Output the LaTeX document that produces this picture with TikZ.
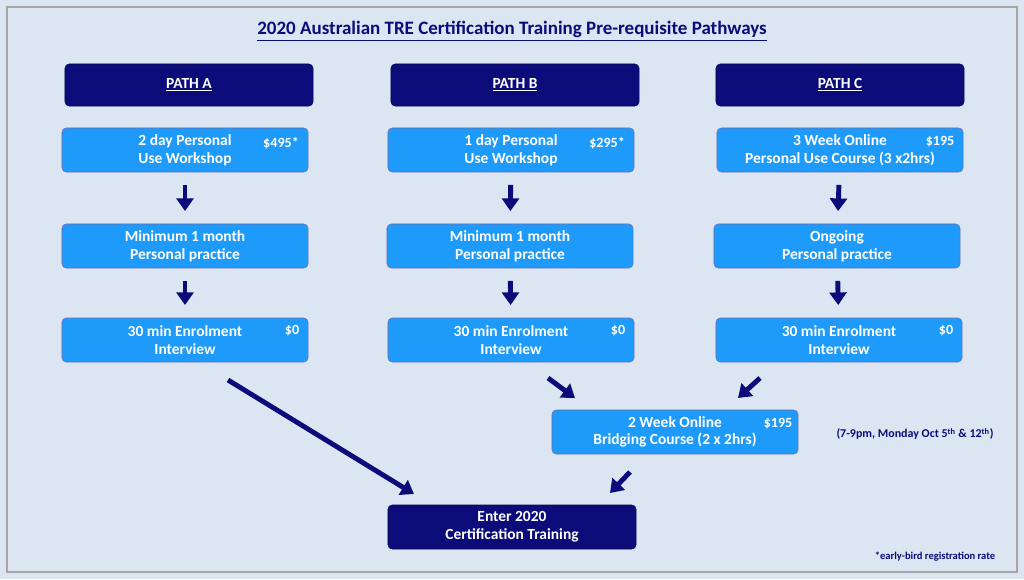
\documentclass[tikz,border=0pt]{standalone}
\usepackage{fontspec}
\setmainfont{Carlito}
\usetikzlibrary{arrows.meta,positioning}
\definecolor{navy}{HTML}{0B0B7A}
\definecolor{skyb}{HTML}{1E9BFA}
\definecolor{bgc}{HTML}{DCE6F2}

\begin{document}
\begin{tikzpicture}[x=0.025cm,y=-0.025cm,
    pathbox/.style={draw=navy!70!black,fill=navy,rounded corners=3pt,text=white,
      font=\bfseries\fontsize{11}{13}\selectfont,minimum width=6.2cm,minimum height=1.05cm},
    stepbox/.style={draw=navy!60,fill=skyb,rounded corners=3pt,text=white,align=center,
      font=\bfseries\fontsize{11}{12.5}\selectfont,minimum width=6.15cm,minimum height=1.1cm},
    price/.style={text=white,font=\bfseries\fontsize{10}{12}\selectfont},
    flow/.style={-{Triangle[length=9pt,width=12pt]},line width=3.5pt,draw=navy}]

  \fill[bgc] (0,0) rectangle (1024,579);
  \draw[gray!70,line width=0.8pt] (7,7) rectangle (1017,572);

  \node (title) at (512,31) [text=navy,font=\bfseries\fontsize{13.5}{15}\selectfont]
    {\underline{2020 Australian TRE Certification Training Pre-requisite Pathways}};

  % path headers
  \node[pathbox] (pa) at (189,85) {\underline{PATH A}};
  \node[pathbox] (pb) at (515,85) {\underline{PATH B}};
  \node[pathbox] (pc) at (840,85) {\underline{PATH C}};

  % workshops
  \node[stepbox] (a1) at (185,150) {2 day Personal\\Use Workshop};
  \node[stepbox] (b1) at (511,150) {1 day Personal\\Use Workshop};
  \node[stepbox] (c1) at (840,150) {3 Week Online\\Personal Use Course (3 x2hrs)};
  \node[price] at (281,143) {\$495*};
  \node[price] at (607,143) {\$295*};
  \node[price] at (940,142) {\$195};

  % practice
  \node[stepbox] (a2) at (185,246) {Minimum 1 month\\Personal practice};
  \node[stepbox] (b2) at (510,246) {Minimum 1 month\\Personal practice};
  \node[stepbox] (c2) at (837,246) {Ongoing\\Personal practice};

  % interviews
  \node[stepbox] (a3) at (185,340) {30 min Enrolment\\Interview};
  \node[stepbox] (b3) at (511,340) {30 min Enrolment\\Interview};
  \node[stepbox] (c3) at (839,340) {30 min Enrolment\\Interview};
  \node[price] at (292,331) {\$0};
  \node[price] at (618,331) {\$0};
  \node[price] at (946,331) {\$0};

  % bridging and end
  \node[stepbox] (br) at (675,432) {2 Week Online\\Bridging Course (2 x 2hrs)};
  \node[price] at (778,424) {\$195};
  \node (brnote) at (915,434) [text=navy,font=\bfseries\fontsize{8.5}{10}\selectfont]
    {(7-9pm, Monday Oct 5\textsuperscript{th} \& 12\textsuperscript{th})};
  \node[pathbox,align=center,minimum height=1.1cm,font=\bfseries\fontsize{11}{12.5}\selectfont]
    (end) at (512,527) {Enter 2020\\Certification Training};
  \node (note) at (935,557) [text=navy,font=\bfseries\fontsize{7.5}{9}\selectfont]
    {*early-bird registration rate};

  % arrows
  \foreach \p in {a,b,c} {
    \draw[flow,shorten <=9pt,shorten >=9pt] (\p1) -- (\p2);
    \draw[flow,shorten <=9pt,shorten >=9pt] (\p2) -- (\p3);
  }
  \coordinate (as) at (228,380);
  \coordinate (bs) at (548,378);
  \coordinate (be) at (575,398);
  \coordinate (cs) at (760,378);
  \coordinate (ce) at (738,398);
  \coordinate (rs) at (630,472);
  \coordinate (ae) at (414,494);
  \coordinate (re) at (610,493);
  \draw[flow] (as) -- (ae);
  \draw[flow] (bs) -- (be);
  \draw[flow] (cs) -- (ce);
  \draw[flow] (rs) -- (re);
\end{tikzpicture}
\end{document}
